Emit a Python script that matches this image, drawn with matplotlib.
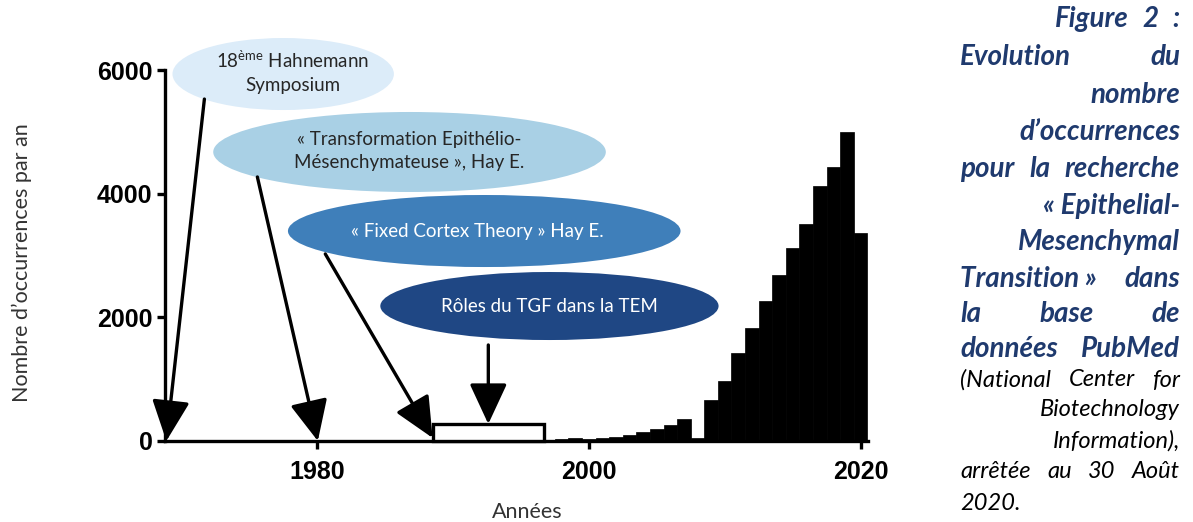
import matplotlib
matplotlib.use("Agg")
import matplotlib.pyplot as plt
from matplotlib.patches import Ellipse, Rectangle

# PubMed hits per year for "Epithelial-Mesenchymal Transition"
years = list(range(1969, 2021))
counts = [0] * 20 + [10, 12, 12, 15, 15, 18, 20, 20,
                     22, 25, 55, 30, 45, 65, 95, 145, 200, 255, 360, 55,
                     670, 970, 1430, 1820, 2265, 2690, 3115, 3505, 4125, 4425, 4995, 3370]

y_ticks = [0, 2000, 4000, 6000]
x_ticks = [1980, 2000, 2020]

# milestones
events = ["18$^{\\mathrm{ème}}$ Hahnemann\nSymposium",
          "« Transformation Epithélio-\nMésenchymateuse », Hay E.",
          "« Fixed Cortex Theory » Hay E.",
          "Rôles du TGF dans la TEM"]
event_colors = ["#dcecf9", "#a9d0e5", "#3f7fba", "#1f4784"]
event_text_colors = ["#262626", "#262626", "white", "white"]
# ellipse centre / size (year, count)
event_boxes = [(1977.5, 5935, 16.3, 1165),
               (1986.8, 4674, 28.9, 1294),
               (1992.3, 3396, 28.9, 1165),
               (1997.1, 2183, 24.9, 1100)]
event_text_xy = [(1978.2, 5970), (1986.8, 4690), (1991.8, 3396), (1997.1, 2183)]
# arrow start and tip (year, count)
event_arrows = [((1971.7, 5530), (1968.9, 0)),
                ((1975.6, 4270), (1980.05, 0)),
                ((1980.6, 3025), (1988.5, 50)),
                ((1992.6, 1553), (1992.6, 275))]
period_span = (1988.55, 1996.7, 275)

# words, alignment, left edge (px), y (px), bold
caption = [
    (["Figure", "2", ":"], "justify", 1055, 19, True),
    (["Evolution", "du"], "justify", 960, 57, True),
    (["nombre"], "right", 960, 95, True),
    (["d’occurrences"], "right", 960, 132, True),
    (["pour", "la", "recherche"], "justify", 960, 169, True),
    (["« Epithelial-"], "right", 960, 206, True),
    (["Mesenchymal"], "right", 960, 242, True),
    (["Transition »", "dans"], "justify", 960, 279, True),
    (["la", "base", "de"], "justify", 960, 314, True),
    (["données", "PubMed"], "justify", 960, 349, True),
    (["(National", "Center", "for"], "justify", 960, 380, False),
    (["Biotechnology"], "right", 960, 410, False),
    (["Information),"], "right", 960, 441, False),
    (["arrêtée", "au", "30", "Août"], "justify", 960, 472, False),
    (["2020."], "left", 960, 503, False),
]

W, H = 1193, 522
plt.rcParams['mathtext.fontset'] = 'custom'
plt.rcParams['mathtext.rm'] = 'Lato'

fig = plt.figure(figsize=(W / 100, H / 100), dpi=100)
ax = fig.add_axes([165 / W, 1 - 441 / H, (868 - 165) / W, (441 - 70) / H])

ax.bar(years, counts, width=1.0, color="black", edgecolor="black", linewidth=0.5, zorder=2)
ax.set_xlim(1968.8, 2020.55)
ax.set_ylim(0, 6000)
ax.set_xticks(x_ticks)
ax.set_yticks(y_ticks)
for s in ["top", "right"]:
    ax.spines[s].set_visible(False)
for s in ["left", "bottom"]:
    ax.spines[s].set_linewidth(2.4)
ax.tick_params(width=2.4, length=6, direction="out")
ax.tick_params(axis="x", pad=8)
ax.tick_params(axis="y", pad=3)
for lab in ax.get_xticklabels() + ax.get_yticklabels():
    lab.set_fontfamily(["Liberation Sans", "DejaVu Sans"])
    lab.set_fontweight("bold")
    lab.set_fontsize(18)

# period box
x0, x1, top = period_span
ax.add_patch(Rectangle((x0, 0), x1 - x0, top, facecolor="white", edgecolor="black",
                       linewidth=2.4, zorder=3, clip_on=False))

for txt, col, tcol, (cx, cy, w, h), (tx, ty) in zip(events, event_colors, event_text_colors,
                                                     event_boxes, event_text_xy):
    ax.add_patch(Ellipse((cx, cy), w, h, facecolor=col, edgecolor="none", zorder=4, clip_on=False))
    ax.text(tx, ty, txt, ha="center", va="center", multialignment="center",
            fontsize=13.5, family="Lato", color=tcol, zorder=5, linespacing=1.45)

for start, tip in event_arrows:
    ax.annotate("", xy=tip, xytext=start, annotation_clip=False, zorder=6,
                arrowprops=dict(arrowstyle="-|>,head_length=1.4,head_width=0.65",
                                color="black", lw=2.4, mutation_scale=18,
                                shrinkA=0, shrinkB=0))

fig.text(22 / W, 1 - 263 / H, "Nombre d’occurrences par an", rotation=90,
         ha="center", va="center", fontsize=15.5, family="Lato", color="#333333")
fig.text(527 / W, 1 - 512 / H, "Années", ha="center", va="center",
         fontsize=15.5, family="Lato", color="#333333")

# justified caption on the right
renderer = fig.canvas.get_renderer()
right_px = 1180
for words, align, left_px, y, bold in caption:
    kw = dict(family="Lato", style="italic", va="center")
    if bold:
        kw.update(weight="bold", color="#1f3a6e", fontsize=20)
    else:
        kw.update(color="black", fontsize=17)
    fy = 1 - y / H
    if align == "right":
        fig.text(right_px / W, fy, " ".join(words), ha="right", **kw)
    elif align == "left":
        fig.text(left_px / W, fy, " ".join(words), ha="left", **kw)
    else:
        texts = [fig.text(0, fy, wd, ha="left", **kw) for wd in words]
        widths = [t.get_window_extent(renderer).width for t in texts]
        gap = (right_px - left_px - sum(widths)) / (len(words) - 1)
        x = left_px
        for t, wdt in zip(texts, widths):
            t.set_x(x / W)
            x += wdt + gap

fig.savefig("out.png", dpi=100)
